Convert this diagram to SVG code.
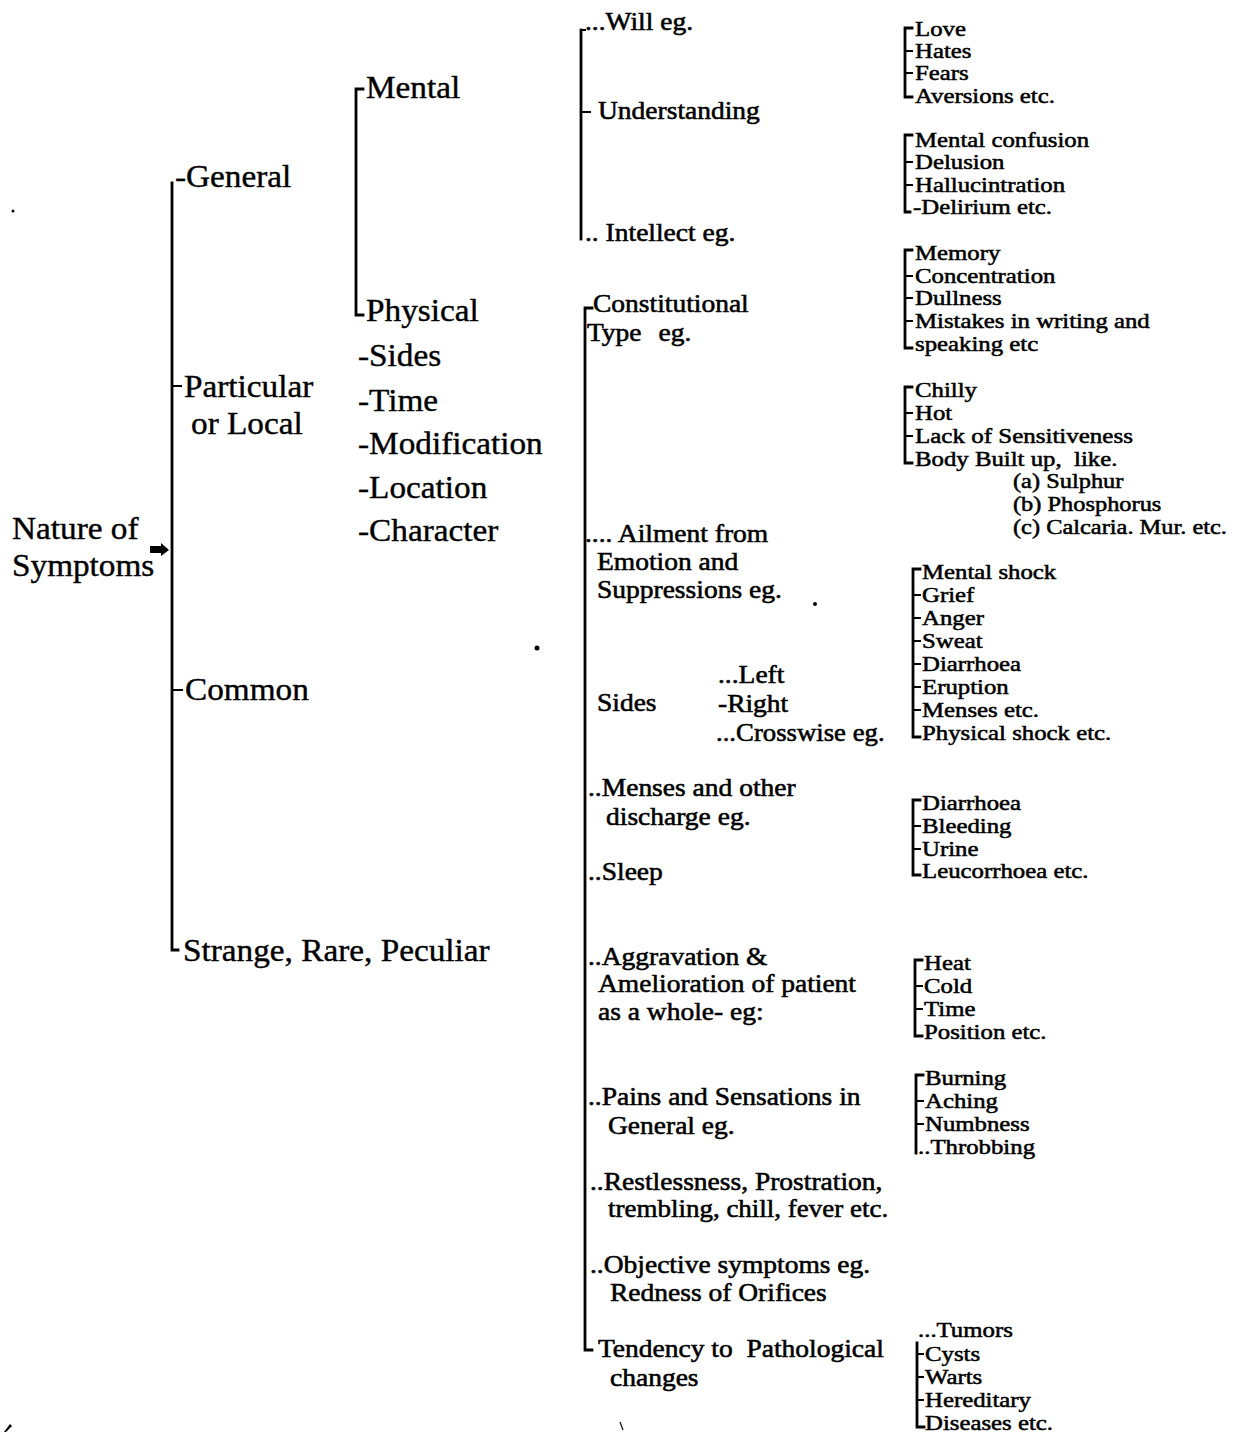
<svg xmlns="http://www.w3.org/2000/svg" width="1235" height="1434" viewBox="0 0 1235 1434">
<style>
text{font-family:"Liberation Serif","Times New Roman",serif;fill:#000;stroke:#000}
.l{font-size:32px;stroke-width:0.4}
.m{font-size:25px;stroke-width:0.55}
.r{font-size:20px;stroke-width:0.5}
.br{fill:none;stroke:#000;stroke-width:2.8;stroke-linecap:square}
.tk{fill:none;stroke:#000;stroke-width:2}
</style>
<rect width="1235" height="1434" fill="#fff"/>
<g id="connectors">
  <path class="br" d="M172,183 V950 H178"/>
  <path class="tk" d="M172,386 H182 M172,690 H183"/>
  <path d="M150,546 H161 V543 L169,550 L161,556 V553 H150 Z" fill="#000"/>
  <path class="br" d="M363,89 H356 V315 H363"/>
  <path class="br" d="M581,30 V239"/>
  <path class="tk" d="M581,30 H586 M581,112 H591"/>
  <path class="br" d="M592,308 H585 V1350 H592"/>
  <path class="br" d="M912,28 H905 V97 H912"/>
  <path class="tk" d="M905,51 H913 M905,73 H913"/>
  <path class="br" d="M912,135 H905 V212 H910"/>
  <path class="tk" d="M905,162 H913 M905,185 H913"/>
  <path class="br" d="M912,250 H905 V348 H912"/>
  <path class="tk" d="M905,276 H913 M905,298 H913 M905,321 H913"/>
  <path class="br" d="M912,387 H905 V463 H912"/>
  <path class="tk" d="M905,413 H913 M905,436 H913"/>
  <path class="br" d="M920,569 H913 V737 H920"/>
  <path class="tk" d="M913,595 H921 M913,618 H921 M913,641 H921 M913,664 H921 M913,687 H921 M913,710 H921"/>
  <path class="br" d="M920,800 H913 V875 H920"/>
  <path class="tk" d="M913,826 H921 M913,849 H921"/>
  <path class="br" d="M922,960 H915 V1036 H922"/>
  <path class="tk" d="M915,986 H923 M915,1009 H923"/>
  <path class="br" d="M923,1075 H916 V1153"/>
  <path class="tk" d="M916,1101 H924 M916,1124 H924"/>
  <path class="br" d="M917,1343 V1427 H924"/>
  <path class="tk" d="M917,1354 H924 M917,1377 H924 M917,1400 H924"/>
</g>
<g id="root"><text class="l" transform="translate(12,539) scale(1.04,1)">Nature of</text><text class="l" transform="translate(12,576) scale(1.04,1)">Symptoms</text></g>
<g id="general"><text class="l" transform="translate(175,187) scale(1.04,1)">-General</text></g>
<g id="particular"><text class="l" transform="translate(184,397) scale(1.04,1)">Particular</text><text class="l" transform="translate(191,434) scale(1.04,1)">or Local</text></g>
<g id="common"><text class="l" transform="translate(185,700) scale(1.04,1)">Common</text></g>
<g id="strange"><text class="l" transform="translate(183,961) scale(1.04,1)">Strange, Rare, Peculiar</text></g>
<g id="mental"><text class="l" transform="translate(366,98) scale(1.04,1)">Mental</text></g>
<g id="physical"><text class="l" transform="translate(366,321) scale(1.04,1)">Physical</text></g>
<g id="local-items">
  <text class="l" transform="translate(358,366) scale(1.04,1)">-Sides</text>
  <text class="l" transform="translate(358,411) scale(1.04,1)">-Time</text>
  <text class="l" transform="translate(358,454) scale(1.04,1)">-Modification</text>
  <text class="l" transform="translate(358,498) scale(1.04,1)">-Location</text>
  <text class="l" transform="translate(358,541) scale(1.04,1)">-Character</text>
</g>
<g id="will"><text class="m" transform="translate(585,30) scale(1.1,1)">...Will eg.</text></g>
<g id="understanding"><text class="m" transform="translate(598,119) scale(1.1,1)">Understanding</text></g>
<g id="intellect"><text class="m" transform="translate(585,241) scale(1.1,1)">.. Intellect eg.</text></g>
<g id="constitutional"><text class="m" transform="translate(593,312) scale(1.1,1)">Constitutional</text><text class="m" transform="translate(587,341) scale(1.1,1)">Type<tspan x="65">eg.</tspan></text></g>
<g id="ailment"><text class="m" transform="translate(585,542) scale(1.1,1)">.... Ailment from</text><text class="m" transform="translate(597,570) scale(1.1,1)">Emotion and</text><text class="m" transform="translate(597,598) scale(1.1,1)">Suppressions eg.</text></g>
<g id="sides"><text class="m" transform="translate(597,711) scale(1.1,1)">Sides</text><text class="m" transform="translate(718,683) scale(1.1,1)">...Left</text><text class="m" transform="translate(718,712) scale(1.1,1)">-Right</text><text class="m" transform="translate(716,741) scale(1.07,1)">...Crosswise eg.</text></g>
<g id="menses"><text class="m" transform="translate(588,796) scale(1.1,1)">..Menses and other</text><text class="m" transform="translate(606,825) scale(1.1,1)">discharge eg.</text></g>
<g id="sleep"><text class="m" transform="translate(588,880) scale(1.1,1)">..Sleep</text></g>
<g id="aggravation"><text class="m" transform="translate(588,965) scale(1.1,1)">..Aggravation &amp;</text><text class="m" transform="translate(598,992) scale(1.1,1)">Amelioration of patient</text><text class="m" transform="translate(598,1020) scale(1.1,1)">as a whole- eg:</text></g>
<g id="pains"><text class="m" transform="translate(588,1105) scale(1.1,1)">..Pains and Sensations in</text><text class="m" transform="translate(608,1134) scale(1.1,1)">General eg.</text></g>
<g id="restlessness"><text class="m" transform="translate(590,1190) scale(1.1,1)">..Restlessness, Prostration,</text><text class="m" transform="translate(608,1217) scale(1.08,1)">trembling, chill, fever etc.</text></g>
<g id="objective"><text class="m" transform="translate(590,1273) scale(1.1,1)">..Objective symptoms eg.</text><text class="m" transform="translate(610,1301) scale(1.1,1)">Redness of Orifices</text></g>
<g id="tendency"><text class="m" transform="translate(598,1357) scale(1.1,1)" xml:space="preserve">Tendency to  Pathological</text><text class="m" transform="translate(610,1386) scale(1.1,1)">changes</text></g>
<g id="will-items"><text class="r" transform="translate(915,36) scale(1.24,1)">Love</text><text class="r" transform="translate(915,58) scale(1.24,1)">Hates</text><text class="r" transform="translate(915,80) scale(1.24,1)">Fears</text><text class="r" transform="translate(915,103) scale(1.24,1)">Aversions etc.</text></g>
<g id="understanding-items"><text class="r" transform="translate(915,147) scale(1.24,1)">Mental confusion</text><text class="r" transform="translate(915,169) scale(1.24,1)">Delusion</text><text class="r" transform="translate(915,192) scale(1.24,1)">Hallucintration</text><text class="r" transform="translate(913,214) scale(1.24,1)">-Delirium etc.</text></g>
<g id="intellect-items"><text class="r" transform="translate(915,260) scale(1.24,1)">Memory</text><text class="r" transform="translate(915,283) scale(1.24,1)">Concentration</text><text class="r" transform="translate(915,305) scale(1.24,1)">Dullness</text><text class="r" transform="translate(915,328) scale(1.24,1)">Mistakes in writing and</text><text class="r" transform="translate(915,351) scale(1.24,1)">speaking etc</text></g>
<g id="constitutional-items"><text class="r" transform="translate(915,397) scale(1.24,1)">Chilly</text><text class="r" transform="translate(915,420) scale(1.24,1)">Hot</text><text class="r" transform="translate(915,443) scale(1.25,1)">Lack of Sensitiveness</text><text class="r" transform="translate(915,466) scale(1.24,1)" xml:space="preserve">Body Built up,  like.</text><text class="r" transform="translate(1013,488) scale(1.22,1)">(a) Sulphur</text><text class="r" transform="translate(1013,511) scale(1.22,1)">(b) Phosphorus</text><text class="r" transform="translate(1013,534) scale(1.22,1)">(c) Calcaria. Mur. etc.</text></g>
<g id="ailment-items"><text class="r" transform="translate(922,579) scale(1.24,1)">Mental shock</text><text class="r" transform="translate(922,602) scale(1.24,1)">Grief</text><text class="r" transform="translate(922,625) scale(1.24,1)">Anger</text><text class="r" transform="translate(922,648) scale(1.24,1)">Sweat</text><text class="r" transform="translate(922,671) scale(1.24,1)">Diarrhoea</text><text class="r" transform="translate(922,694) scale(1.24,1)">Eruption</text><text class="r" transform="translate(922,717) scale(1.24,1)">Menses etc.</text><text class="r" transform="translate(922,740) scale(1.24,1)">Physical shock etc.</text></g>
<g id="menses-items"><text class="r" transform="translate(922,810) scale(1.24,1)">Diarrhoea</text><text class="r" transform="translate(922,833) scale(1.24,1)">Bleeding</text><text class="r" transform="translate(922,856) scale(1.24,1)">Urine</text><text class="r" transform="translate(922,878) scale(1.24,1)">Leucorrhoea etc.</text></g>
<g id="aggravation-items"><text class="r" transform="translate(924,970) scale(1.24,1)">Heat</text><text class="r" transform="translate(924,993) scale(1.24,1)">Cold</text><text class="r" transform="translate(924,1016) scale(1.24,1)">Time</text><text class="r" transform="translate(924,1039) scale(1.24,1)">Position etc.</text></g>
<g id="pains-items"><text class="r" transform="translate(925,1085) scale(1.24,1)">Burning</text><text class="r" transform="translate(925,1108) scale(1.24,1)">Aching</text><text class="r" transform="translate(925,1131) scale(1.24,1)">Numbness</text><text class="r" transform="translate(918,1154) scale(1.24,1)">..Throbbing</text></g>
<g id="tendency-items"><text class="r" transform="translate(918,1337) scale(1.24,1)">...Tumors</text><text class="r" transform="translate(925,1361) scale(1.24,1)">Cysts</text><text class="r" transform="translate(925,1384) scale(1.24,1)">Warts</text><text class="r" transform="translate(925,1407) scale(1.24,1)">Hereditary</text><text class="r" transform="translate(925,1430) scale(1.24,1)">Diseases etc.</text></g>
<g id="specks" fill="#000">
  <circle cx="537" cy="648" r="2.5"/>
  <circle cx="815" cy="604" r="2"/>
  <circle cx="13" cy="211" r="1.5"/>
  <path d="M4,1432 L10,1424 L12,1426 L6,1432 Z"/>
  <path d="M620,1422 L623,1430" stroke="#000" stroke-width="1.2"/>
</g>
</svg>
